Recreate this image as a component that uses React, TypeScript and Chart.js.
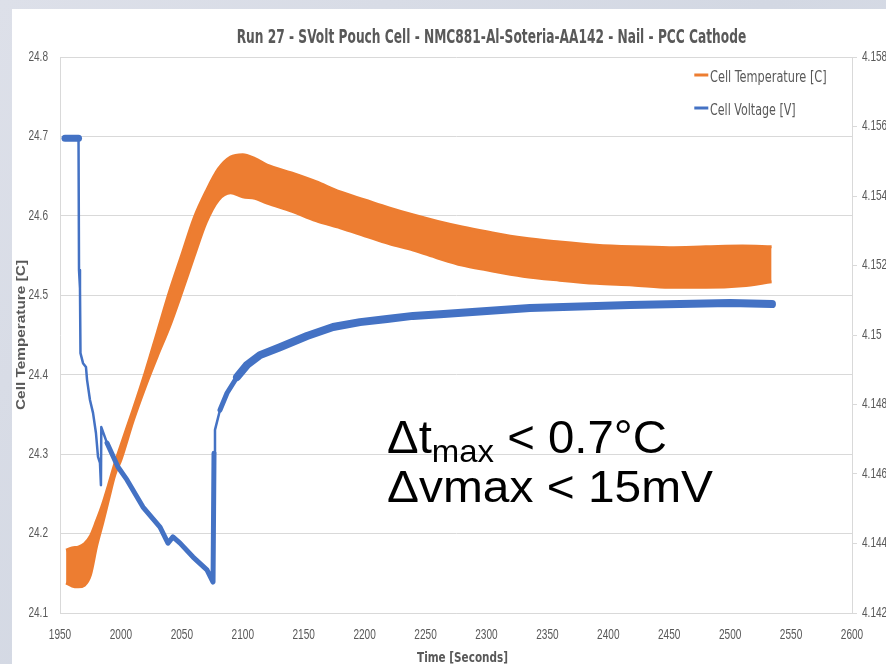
import { useEffect, useRef } from "react";
import { Chart, registerables } from "chart.js";
Chart.register(...registerables);

const chartTitle = "Run 27 - SVolt Pouch Cell - NMC881-Al-Soteria-AA142 - Nail - PCC Cathode";
const xAxisTitle = "Time [Seconds]";
const yAxisTitle = "Cell Temperature [C]";
const seriesNames = ["Cell Temperature [C]", "Cell Voltage [V]"];
const noteLine1 = ["Δt", "max", " < 0.7°C"];
const noteLine2 = "Δvmax < 15mV";

// Temperature band (noisy signal envelope), left axis
const tempTime = [1955, 1960, 1965, 1970, 1975, 1980, 1985, 1990, 1995, 2000, 2010, 2020, 2030, 2040, 2050, 2060, 2070, 2080, 2090, 2100, 2110, 2120, 2140, 2160, 2180, 2200, 2220, 2240, 2260, 2280, 2300, 2330, 2360, 2390, 2420, 2450, 2480, 2510, 2534];
const tempUpper = [24.179, 24.182, 24.183, 24.187, 24.197, 24.216, 24.237, 24.262, 24.288, 24.311, 24.356, 24.403, 24.454, 24.505, 24.551, 24.597, 24.631, 24.659, 24.674, 24.677, 24.672, 24.664, 24.654, 24.643, 24.630, 24.620, 24.610, 24.601, 24.593, 24.586, 24.580, 24.572, 24.567, 24.563, 24.561, 24.560, 24.561, 24.562, 24.561];
const tempLower = [24.138, 24.134, 24.133, 24.135, 24.148, 24.184, 24.213, 24.244, 24.274, 24.293, 24.342, 24.385, 24.424, 24.461, 24.504, 24.549, 24.592, 24.620, 24.629, 24.624, 24.622, 24.616, 24.606, 24.594, 24.585, 24.575, 24.565, 24.557, 24.547, 24.538, 24.532, 24.524, 24.519, 24.515, 24.513, 24.510, 24.510, 24.512, 24.517];

// Voltage, right axis
const voltTime = [1954.1, 1965.2, 1965.6, 1966.4, 1966.8, 1968.9, 1971.3, 1972.2, 1974.6, 1977.1, 1979.5, 1981.2, 1982.8, 1983.6, 1983.9, 1988.6, 1997.6, 2005.0, 2018.1, 2032.1, 2038.6, 2042.7, 2048.5, 2059.2, 2070.6, 2075.6, 2076.4, 2077.2, 2081.3, 2087.1, 2095.3, 2103.5, 2114.1, 2130.5, 2152.7, 2174.1, 2196.2, 2218.4, 2239.7, 2261.9, 2335.7, 2417.8, 2499.9, 2534.3];
const voltValue = [4.15566, 4.15566, 4.15187, 4.15135, 4.14948, 4.14919, 4.14908, 4.14871, 4.14813, 4.14776, 4.14718, 4.14649, 4.14632, 4.14568, 4.14735, 4.14689, 4.14620, 4.14583, 4.14505, 4.14447, 4.14401, 4.14419, 4.14401, 4.14361, 4.14324, 4.14289, 4.14660, 4.14727, 4.14784, 4.14833, 4.14879, 4.14914, 4.14942, 4.14965, 4.14997, 4.15023, 4.15037, 4.15046, 4.15055, 4.15060, 4.15078, 4.15086, 4.15092, 4.15089];

const ORANGE = "#ED7D31";
const BLUE = "#4472C4";
const TEXT = "#595959";
const GRID = "#d9d9d9";
const NARROW = "'Liberation Sans Narrow', 'DejaVu Sans Condensed', 'Liberation Sans', sans-serif";
const ARIAL = "'Liberation Sans', Arial, sans-serif";

function fitText(ctx: CanvasRenderingContext2D, text: string, x: number, y: number, w: number) {
  const m = ctx.measureText(text).width;
  ctx.save();
  ctx.translate(x, y);
  ctx.scale(w / m, 1);
  ctx.textAlign = "left";
  ctx.fillText(text, 0, 0);
  ctx.restore();
}

function squeezed(ctx: CanvasRenderingContext2D, text: string, x: number, y: number, align: CanvasTextAlign, sx = 0.72) {
  ctx.save();
  ctx.translate(x, y);
  ctx.scale(sx, 1);
  ctx.textAlign = align;
  ctx.fillText(text, 0, 0);
  ctx.restore();
}

const decor = {
  id: "decor",
  afterDraw(chart: any) {
    const ctx: CanvasRenderingContext2D = chart.ctx;
    const { x, y, y1 } = chart.scales;
    ctx.save();
    // tick labels, placed by the chart's own scales
    ctx.fillStyle = TEXT;
    ctx.font = `14px ${ARIAL}`;
    ctx.textBaseline = "middle";
    y.ticks.forEach((t: any) => squeezed(ctx, String(t.label), y.right - 12, y.getPixelForValue(t.value), "right"));
    y1.ticks.forEach((t: any) => squeezed(ctx, String(t.label), y1.left + 10, y1.getPixelForValue(t.value), "left"));
    x.ticks.forEach((t: any) => squeezed(ctx, String(t.label), x.getPixelForValue(t.value), x.top + 22, "center"));

    ctx.textBaseline = "alphabetic";
    // title
    ctx.font = `bold 19px ${NARROW}`;
    fitText(ctx, chartTitle, 224.7, 34.3, 509.5);
    // legend
    ctx.lineWidth = 3;
    ctx.strokeStyle = ORANGE;
    ctx.beginPath(); ctx.moveTo(682.3, 66); ctx.lineTo(696.3, 66); ctx.stroke();
    ctx.strokeStyle = BLUE;
    ctx.beginPath(); ctx.moveTo(682.3, 99); ctx.lineTo(696.3, 99); ctx.stroke();
    ctx.font = `15px ${NARROW}`;
    fitText(ctx, seriesNames[0], 698, 72.7, 116.7);
    fitText(ctx, seriesNames[1], 698, 106, 85.7);
    // y axis title
    ctx.font = `bold 12px ${ARIAL}`;
    ctx.save();
    ctx.translate(13, 401);
    ctx.rotate(-Math.PI / 2);
    fitText(ctx, yAxisTitle, 0, 0, 150);
    ctx.restore();
    // x axis title
    ctx.font = `bold 14px ${NARROW}`;
    fitText(ctx, xAxisTitle, 405, 653, 91);
    // annotation
    ctx.fillStyle = "#000";
    ctx.font = `46px ${ARIAL}`;
    const wA = ctx.measureText(noteLine1[0]).width;
    const wC = ctx.measureText(noteLine1[2]).width;
    ctx.font = `32px ${ARIAL}`;
    const wB = ctx.measureText(noteLine1[1]).width;
    const s1 = 280 / (wA + wB + wC);
    ctx.save();
    ctx.translate(375, 444);
    ctx.scale(s1, 1);
    ctx.font = `46px ${ARIAL}`;
    ctx.fillText(noteLine1[0], 0, 0);
    ctx.font = `32px ${ARIAL}`;
    ctx.fillText(noteLine1[1], wA, 9);
    ctx.font = `46px ${ARIAL}`;
    ctx.fillText(noteLine1[2], wA + wB, 0);
    ctx.restore();
    ctx.font = `44px ${ARIAL}`;
    fitText(ctx, noteLine2, 375, 493, 326);
    ctx.restore();
  },
};

function bw(x: number) {
  if (x < 1965) return 7;
  if (x < 1984) return 2.5;
  if (x < 2075.8) return 5;
  if (x < 2078) return 2.5;
  if (x < 2090) return 5;
  return 8;
}

export default function App() {
  const ref = useRef<HTMLCanvasElement>(null);
  useEffect(() => {
    const chart = new Chart(ref.current!, {
      type: "line",
      data: {
        datasets: [
          {
            label: seriesNames[1],
            data: voltTime.map((x, i) => ({ x, y: voltValue[i] })),
            yAxisID: "y1",
            borderColor: BLUE,
            backgroundColor: BLUE,
            borderWidth: 3,
            borderCapStyle: "round",
            borderJoinStyle: "round",
            pointRadius: 0,
            fill: false,
            segment: { borderWidth: (c: any) => bw(c.p0.parsed.x) },
          } as any,
          {
            label: seriesNames[0],
            data: tempTime.map((x, i) => ({ x, y: tempUpper[i] })),
            yAxisID: "y",
            borderColor: ORANGE,
            backgroundColor: ORANGE,
            borderWidth: 3,
            cubicInterpolationMode: "monotone",
            pointRadius: 0,
            fill: "+1",
          },
          {
            label: seriesNames[0] + " low",
            data: tempTime.map((x, i) => ({ x, y: tempLower[i] })),
            yAxisID: "y",
            borderColor: ORANGE,
            backgroundColor: ORANGE,
            borderWidth: 3,
            cubicInterpolationMode: "monotone",
            pointRadius: 0,
            fill: false,
          },
        ],
      },
      options: {
        animation: false,
        responsive: false,
        maintainAspectRatio: false,
        devicePixelRatio: 1,
        layout: { padding: { top: 48, left: 0, right: 0, bottom: 0 } },
        plugins: { legend: { display: false }, tooltip: { enabled: false }, title: { display: false } },
        scales: {
          x: {
            type: "linear",
            min: 1950,
            max: 2600,
            ticks: { display: false, stepSize: 50, autoSkip: false, callback: (v: any) => String(v) },
            grid: { display: false, drawTicks: false },
            border: { display: true, color: GRID },
            afterFit: (s: any) => { s.height = 51; },
          },
          y: {
            position: "left",
            min: 24.1,
            max: 24.8,
            ticks: { display: false, stepSize: 0.1, callback: (v: any) => Number(v).toFixed(1) },
            grid: { color: GRID, drawTicks: false },
            border: { display: true, color: GRID },
            afterFit: (s: any) => { s.width = 48; },
          },
          y1: {
            position: "right",
            min: 4.142,
            max: 4.158,
            ticks: { display: false, stepSize: 0.002, callback: (v: any) => String(parseFloat(Number(v).toFixed(3))) },
            grid: { drawOnChartArea: false, drawTicks: true, tickLength: 5, color: GRID },
            border: { display: true, color: GRID },
            afterFit: (s: any) => { s.width = 34; },
          },
        },
      } as any,
      plugins: [decor],
    });
    return () => chart.destroy();
  }, []);
  return (
    <div style={{ position: "fixed", left: 0, top: 0, width: 886, height: 664, overflow: "hidden", background: "linear-gradient(135deg, #dde0e9 0%, #d3d8e3 50%, #dfe2ea 100%)" }}>
      <canvas ref={ref} width={874} height={655} style={{ position: "absolute", left: 12, top: 9, width: 874, height: 655, background: "#ffffff" }} />
    </div>
  );
}
